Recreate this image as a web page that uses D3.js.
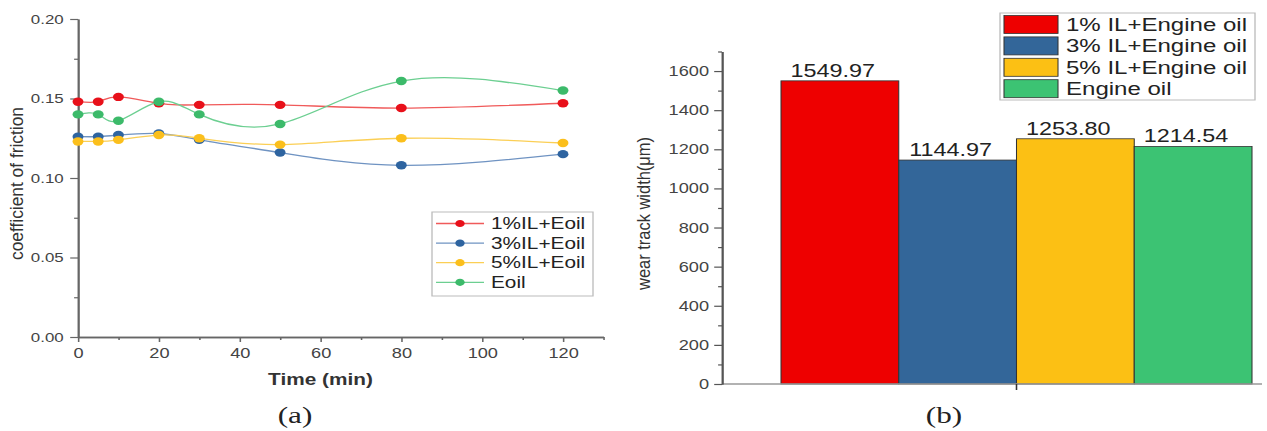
<!DOCTYPE html>
<html>
<head>
<meta charset="utf-8">
<script src="https://cdn.jsdelivr.net/npm/d3@7"></script>
<style>
  body { margin: 0; background: #fff; }
  svg { display: block; }
  text { font-family: "Liberation Sans", Arial, sans-serif; }
</style>
</head>
<body>
<script>
// (a) coefficient of friction vs time
const times = [0, 5, 10, 20, 30, 50, 80, 120];
const cof1 = [0.148, 0.148, 0.151, 0.147, 0.146, 0.146, 0.144, 0.147];
const cof3 = [0.126, 0.126, 0.127, 0.128, 0.124, 0.116, 0.108, 0.115];
const cof5 = [0.123, 0.123, 0.124, 0.127, 0.125, 0.121, 0.125, 0.122];
const cofE = [0.140, 0.140, 0.136, 0.148, 0.140, 0.134, 0.161, 0.155];
const lineNames = ["1%IL+Eoil", "3%IL+Eoil", "5%IL+Eoil", "Eoil"];
const xTicks = [0, 20, 40, 60, 80, 100, 120];
const yTicks = [0, 0.05, 0.10, 0.15, 0.20];

// (b) wear track width
const barNames = ["1% IL+Engine oil", "3% IL+Engine oil", "5% IL+Engine oil", "Engine oil"];
const wearWidth = [1549.97, 1144.97, 1253.80, 1214.54];
const wearTicks = [0, 200, 400, 600, 800, 1000, 1200, 1400, 1600];

const W = 1267, H = 431;
const SX = 1.3; // the source picture is stretched sideways
const svg = d3.select("body").append("svg")
    .attr("width", W).attr("height", H)
    .attr("viewBox", `0 0 ${W / SX} ${H}`)
    .attr("preserveAspectRatio", "none");

const lineColors = ["#f05a5a", "#6f93c2", "#fbcf55", "#6ccf91"];
const dotColors = ["#e8101a", "#2e64a0", "#fbbf1c", "#3cba6a"];
const barColors = ["#ee0000", "#336699", "#fcc014", "#3cc373"];

function styleAxis(g, color) {
    g.select(".domain").attr("stroke", color).attr("stroke-width", 1.4);
    g.selectAll(".tick line").attr("stroke", color).attr("stroke-width", 1.2);
    g.selectAll(".tick text").attr("fill", "#444").style("font-family", '"Liberation Sans", Arial, sans-serif');
}

// ---------- chart (a) ----------
const x = d3.scaleLinear().domain([0, 130]).range([78 / SX, 603.4 / SX]);
const y = d3.scaleLinear().domain([0, 0.2]).range([337, 19]);

const gxMinor = svg.append("g").attr("transform", `translate(0,${y(0)})`)
    .call(d3.axisBottom(x).tickValues(d3.range(10, 131, 20)).tickSize(3).tickSizeOuter(0).tickFormat(""));
styleAxis(gxMinor, "#666");
const gx = svg.append("g").attr("transform", `translate(0,${y(0)})`)
    .call(d3.axisBottom(x).tickValues(xTicks).tickSize(5).tickSizeOuter(0).tickPadding(6));
styleAxis(gx, "#666");
gx.selectAll(".tick text").attr("font-size", 14);

const gyMinor = svg.append("g").attr("transform", `translate(${x(0)},0)`)
    .call(d3.axisLeft(y).tickValues([0.025, 0.075, 0.125, 0.175]).tickSize(3).tickSizeOuter(0).tickFormat(""));
styleAxis(gyMinor, "#666");
const gy = svg.append("g").attr("transform", `translate(${x(0)},0)`)
    .call(d3.axisLeft(y).tickValues(yTicks).tickSize(6).tickSizeOuter(0).tickPadding(5).tickFormat(d3.format(".2f")));
styleAxis(gy, "#666");
gy.selectAll(".tick text").attr("font-size", 13);

svg.append("text")
    .attr("x", x(60)).attr("y", 385)
    .attr("text-anchor", "middle").attr("font-size", 16).attr("font-weight", "bold").attr("fill", "#333")
    .text("Time (min)");
svg.append("text")
    .attr("transform", `translate(${23 / SX},183.5) rotate(-90)`)
    .attr("text-anchor", "middle").attr("font-size", 14).attr("fill", "#333")
    .attr("textLength", 153).attr("lengthAdjust", "spacingAndGlyphs")
    .text("coefficient of friction");

const series = [cof1, cof3, cof5, cofE];
const line = d3.line()
    .x((d, i) => x(times[i]))
    .y(d => y(d))
    .curve(d3.curveNatural);

series.forEach(function(vals, k) {
    svg.append("path")
        .attr("d", line(vals))
        .attr("fill", "none")
        .attr("stroke", lineColors[k])
        .attr("stroke-width", 1.3);
    svg.append("g").selectAll("circle")
        .data(vals).enter()
        .append("circle")
        .attr("cx", (d, i) => x(times[i]))
        .attr("cy", d => y(d))
        .attr("r", 4.2)
        .attr("fill", dotColors[k]);
});

// legend (a)
const legA = svg.append("g");
legA.append("rect")
    .attr("x", 432 / SX).attr("y", 212).attr("width", (593 - 432) / SX).attr("height", 84)
    .attr("fill", "#fff").attr("stroke", "#bbb").attr("stroke-width", 1);
lineNames.forEach(function(name, k) {
    const cy = 223.5 + k * 19.6;
    legA.append("line")
        .attr("x1", 436 / SX).attr("x2", 484 / SX).attr("y1", cy).attr("y2", cy)
        .attr("stroke", lineColors[k]).attr("stroke-width", 1.3);
    legA.append("circle")
        .attr("cx", 460 / SX).attr("cy", cy).attr("r", 3.6).attr("fill", dotColors[k]);
    legA.append("text")
        .attr("x", 491 / SX).attr("y", cy + 5.6)
        .attr("font-size", 16).attr("fill", "#222")
        .text(name);
});

svg.append("text")
    .attr("x", 295 / SX).attr("y", 423)
    .attr("text-anchor", "middle").attr("font-size", 24).attr("fill", "#222")
    .style("font-family", '"Liberation Serif", "Times New Roman", serif')
    .text("(a)");

// ---------- chart (b) ----------
const yb = d3.scaleLinear().domain([0, 1700]).range([384, 51.5]);
const xb = d3.scaleBand().domain(barNames).range([781 / SX, 1252 / SX]).padding(0);

svg.append("g").selectAll("rect")
    .data(wearWidth).enter()
    .append("rect")
    .attr("x", (d, i) => xb(barNames[i]))
    .attr("y", d => yb(d))
    .attr("width", xb.bandwidth())
    .attr("height", d => yb(0) - yb(d))
    .attr("fill", (d, i) => barColors[i])
    .attr("stroke", "#333")
    .attr("stroke-width", 0.8);

svg.append("g").selectAll("text")
    .data(wearWidth).enter()
    .append("text")
    .attr("x", (d, i) => xb(barNames[i]) + xb.bandwidth() / 2 - 7 / SX)
    .attr("y", d => yb(d) - 4)
    .attr("text-anchor", "middle")
    .attr("font-size", 18)
    .attr("fill", "#222")
    .text(d => d3.format(".2f")(d));

// x axis of (b): plain line with one tick between the middle bars
svg.append("line")
    .attr("x1", 722 / SX).attr("x2", 1262 / SX).attr("y1", yb(0)).attr("y2", yb(0))
    .attr("stroke", "#999").attr("stroke-width", 1.4);
svg.append("line")
    .attr("x1", xb(barNames[2])).attr("x2", xb(barNames[2]))
    .attr("y1", yb(0)).attr("y2", yb(0) + 6)
    .attr("stroke", "#333").attr("stroke-width", 1.2);

const gbMinor = svg.append("g").attr("transform", `translate(${722 / SX},0)`)
    .call(d3.axisLeft(yb).tickValues(d3.range(100, 1701, 200)).tickSize(3).tickSizeOuter(0).tickFormat(""));
styleAxis(gbMinor, "#555");
const gb = svg.append("g").attr("transform", `translate(${722 / SX},0)`)
    .call(d3.axisLeft(yb).tickValues(wearTicks).tickSize(6).tickSizeOuter(0).tickPadding(4).tickFormat(d3.format("d")));
styleAxis(gb, "#555");
gb.selectAll(".tick text").attr("font-size", 14);

svg.append("text")
    .attr("transform", `translate(${650 / SX},213.5) rotate(-90)`)
    .attr("text-anchor", "middle").attr("font-size", 14).attr("fill", "#333")
    .attr("textLength", 153).attr("lengthAdjust", "spacingAndGlyphs")
    .text("wear track width(\u03bcm)");

// legend (b)
const legB = svg.append("g");
legB.append("rect")
    .attr("x", 1000 / SX).attr("y", 13).attr("width", (1255 - 1000) / SX).attr("height", 87)
    .attr("fill", "#fff").attr("stroke", "#bbb").attr("stroke-width", 1);
barNames.forEach(function(name, k) {
    const cy = 24.5 + k * 21.4;
    legB.append("rect")
        .attr("x", 1004 / SX).attr("y", cy - 9).attr("width", 54 / SX).attr("height", 18)
        .attr("fill", barColors[k]).attr("stroke", "#333").attr("stroke-width", 0.8);
    legB.append("text")
        .attr("x", 1066 / SX).attr("y", cy + 6.5)
        .attr("font-size", 18.5).attr("fill", "#222")
        .text(name);
});

svg.append("text")
    .attr("x", 944 / SX).attr("y", 423)
    .attr("text-anchor", "middle").attr("font-size", 24).attr("fill", "#222")
    .style("font-family", '"Liberation Serif", "Times New Roman", serif')
    .text("(b)");
</script>
</body>
</html>
